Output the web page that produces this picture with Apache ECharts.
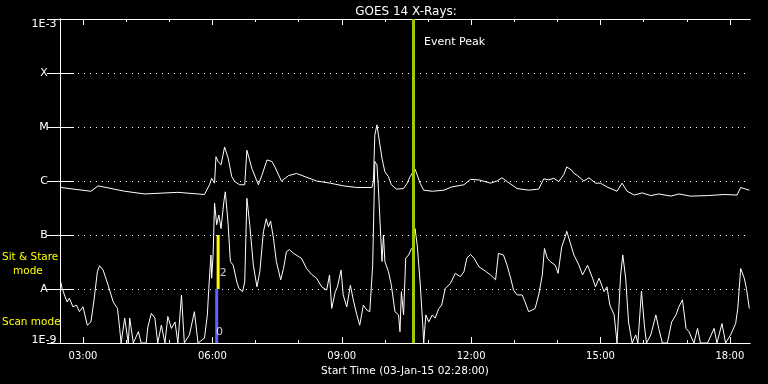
<!DOCTYPE html>
<html><head><meta charset="utf-8">
<script src="https://cdn.jsdelivr.net/npm/echarts@6/dist/echarts.min.js"></script>
<style>html,body{margin:0;background:#000}#c{width:768px;height:384px}</style>
</head><body><div id="c"></div><script>
// ---- data (time in minutes after 02:28 UT, flux as log10 W/m^2) ----
const chartTitle = 'GOES 14 X-Rays:';
const xTitle = 'Start Time (03-Jan-15 02:28:00)';
const startMinuteOfDay = 148;   // 02:28
const spanMinutes = 960;        // 16 hours
const majorHours = [3, 6, 9, 12, 15, 18];
const minorHours = [3, 4, 5, 6, 7, 8, 9, 10, 11, 12, 13, 14, 15, 16, 17, 18];
const yTickValues = [-9, -8, -7, -6, -5, -4, -3];
const yTickLabels = ['1E-9', 'A', 'B', 'C', 'M', 'X', '1E-3'];

const longTime = [1,43,53,90,118,164,201,208,211,215,217,220,224,229,234,239,243,250,257,260,262,267,276,281,288,295,299,308,318,329,341,357,376,394,413,434,436,438,441,443,448,452,457,461,468,478,483,487,494,497,501,506,518,534,545,562,571,583,599,608,615,622,636,652,666,673,680,687,694,701,705,712,715,719,729,736,745,752,761,775,782,789,799,810,822,833,850,861,877,901,924,942,947,959];
const longFlux = [-6.12,-6.19,-6.09,-6.19,-6.24,-6.21,-6.25,-6.07,-5.95,-6.04,-5.55,-5.64,-5.70,-5.37,-5.58,-5.92,-6.01,-6.07,-6.07,-5.43,-5.46,-5.77,-6.07,-5.89,-5.61,-5.64,-5.74,-6.00,-5.90,-5.86,-5.92,-6.00,-6.04,-6.09,-6.12,-6.12,-6.01,-5.15,-4.96,-5.15,-5.58,-5.83,-5.92,-6.07,-6.15,-6.14,-6.04,-5.92,-5.78,-5.89,-6.04,-6.17,-6.19,-6.17,-6.11,-6.07,-5.97,-5.98,-6.04,-6.00,-5.94,-6.01,-6.14,-6.17,-6.15,-5.96,-5.98,-5.95,-6.01,-5.88,-5.74,-5.80,-5.86,-5.89,-6.00,-5.94,-6.04,-6.04,-6.11,-6.19,-6.04,-6.19,-6.26,-6.22,-6.27,-6.24,-6.28,-6.24,-6.28,-6.27,-6.25,-6.26,-6.12,-6.17];

const shortTime = [1,3,7,10,13,18,23,27,32,38,43,47,52,55,60,67,74,80,83,85,90,95,97,102,109,113,120,122,127,132,136,141,146,150,155,160,164,169,173,180,187,192,201,205,207,210,211,213,215,218,221,224,228,230,234,237,241,246,249,254,257,260,262,264,269,274,278,283,287,290,293,297,301,307,311,315,319,325,332,336,343,350,357,364,371,375,378,383,386,391,394,399,404,408,413,417,422,427,431,435,437,438,441,443,445,448,450,452,457,461,466,471,473,475,478,481,485,489,492,494,497,501,505,506,509,513,518,522,527,531,536,543,550,557,562,566,571,576,583,592,599,606,610,617,622,627,631,636,643,647,652,657,661,666,671,674,678,682,689,693,698,703,705,710,715,722,727,734,741,745,750,757,761,765,771,775,780,783,787,791,796,801,804,809,813,816,822,829,833,838,845,851,857,861,866,871,875,882,887,891,901,910,914,921,926,933,940,943,947,952,955,959];
const shortFlux = [-7.87,-7.99,-8.14,-8.24,-8.17,-8.33,-8.30,-8.42,-8.33,-8.67,-8.61,-8.24,-7.68,-7.57,-7.65,-7.93,-8.24,-8.36,-8.73,-9,-8.54,-9,-8.54,-9,-8.79,-9,-9,-8.72,-8.45,-8.54,-9,-8.67,-9,-8.51,-8.73,-8.61,-9,-8.11,-9,-8.85,-8.42,-9,-8.91,-8.48,-7.99,-7.37,-7.80,-7.37,-6.41,-6.81,-6.63,-6.88,-6.38,-6.20,-6.81,-7.49,-7.56,-7.87,-7.99,-8.05,-7.87,-6.32,-6.29,-6.81,-7.56,-7.96,-7.68,-6.94,-6.70,-6.85,-6.74,-7.06,-7.49,-7.83,-7.62,-7.31,-7.27,-7.34,-7.40,-7.43,-7.62,-7.73,-7.80,-7.96,-8.02,-7.74,-8.36,-8.05,-7.96,-7.65,-8.11,-8.33,-7.93,-8.20,-8.48,-8.67,-8.30,-8.39,-8.42,-7.56,-6.32,-5.64,-5.70,-6.14,-6.69,-7.49,-7.00,-7.49,-7.68,-7.93,-8.42,-8.48,-8.79,-8.05,-8.48,-7.43,-7.37,-7.25,-7.25,-6.88,-7.19,-7.87,-8.73,-9,-8.48,-8.61,-8.48,-8.54,-8.36,-8.30,-7.99,-7.90,-7.71,-7.77,-7.68,-7.43,-7.36,-7.43,-7.59,-7.67,-7.74,-7.83,-7.34,-7.37,-7.56,-7.80,-8.02,-8.11,-8.11,-8.24,-8.42,-8.39,-8.36,-8.11,-7.74,-7.25,-7.43,-7.49,-7.56,-7.71,-7.22,-7.03,-6.93,-7.15,-7.37,-7.56,-7.74,-7.56,-7.80,-7.96,-7.80,-8.05,-7.96,-8.30,-8.48,-9,-7.74,-7.37,-7.80,-8.61,-9,-8.85,-9,-8.04,-8.67,-9,-8.85,-8.48,-8.73,-9,-9,-8.61,-8.48,-8.33,-8.20,-8.73,-8.79,-9,-8.73,-9,-9,-8.73,-9,-8.64,-9,-8.85,-8.64,-8.36,-7.62,-7.80,-7.99,-8.36];

const eventPeakTime = 491;
const sitStareTime = 220, sitStareRange = [-8, -7], sitStareLabel = '2';
const scanTime = 218, scanRange = [-9, -8], scanLabel = '0';
const modeLabelPoints = [[227, -7.7, sitStareLabel], [222, -8.8, scanLabel]];

// ---- build ----
const FONT = 'DejaVu Sans';
const zip = (t, v) => t.map((x, i) => [x, v[i]]);
const hourToMin = h => h * 60 - startMinuteOfDay;
const majorTicks = majorHours.map(hourToMin);
const minorTicks = minorHours.map(hourToMin);
const fmtHour = v => {
  const h = Math.round((v + startMinuteOfDay) / 60);
  return (h < 10 ? '0' : '') + h + ':00';
};
const baseX = {
  type: 'value', min: 0, max: spanMinutes, gridIndex: 0,
  axisLine: {show: true, onZero: false, lineStyle: {color: '#fff', width: 1}},
  splitLine: {show: false}
};
const xAxes = [
  Object.assign({}, baseX, {position: 'bottom',
    axisTick: {show: true, inside: true, length: 6, customValues: majorTicks, lineStyle: {color: '#fff'}},
    axisLabel: {show: true, customValues: majorTicks, formatter: fmtHour, color: '#fff', fontFamily: FONT, fontSize: 10, margin: 8},
    name: xTitle, nameLocation: 'middle', nameGap: 18,
    nameTextStyle: {color: '#fff', fontFamily: FONT, fontSize: 10.5}}),
  Object.assign({}, baseX, {position: 'bottom',
    axisTick: {show: true, inside: true, length: 3, customValues: minorTicks, lineStyle: {color: '#fff'}},
    axisLabel: {show: false}}),
  Object.assign({}, baseX, {position: 'top',
    axisTick: {show: true, inside: true, length: 6, customValues: majorTicks, lineStyle: {color: '#fff'}},
    axisLabel: {show: false}}),
  Object.assign({}, baseX, {position: 'top',
    axisTick: {show: true, inside: true, length: 3, customValues: minorTicks, lineStyle: {color: '#fff'}},
    axisLabel: {show: false}})
];
const yLabelFor = v => {
  const i = yTickValues.indexOf(Math.round(v));
  const s = i >= 0 ? yTickLabels[i] : '';
  if (i === 0) return '{lo|' + s + '}';
  if (i === yTickValues.length - 1) return '{hi|' + s + '}';
  return s;
};
const lblStyle = {color: '#fff', fontFamily: FONT, fontSize: 11};
const yAxes = [
  {type: 'value', min: -9, max: -3, interval: 1, position: 'left',
    axisLine: {show: true, lineStyle: {color: '#fff'}},
    axisTick: {show: true, inside: true, length: 14, lineStyle: {color: '#fff'}},
    axisLabel: Object.assign({show: true, align: 'center', margin: 16, formatter: yLabelFor,
      showMinLabel: true, showMaxLabel: true,
      rich: {lo: Object.assign({padding: [0, 0, 6, 0]}, lblStyle), hi: Object.assign({padding: [11, 0, 0, 0]}, lblStyle)}}, lblStyle),
    splitLine: {show: true, lineStyle: {color: '#fff', width: 1, type: [1, 5]}}},
  {type: 'value', min: -9, max: -3, interval: 1, position: 'right',
    axisLine: {show: true, lineStyle: {color: '#fff'}},
    axisTick: {show: true, inside: true, length: 13, lineStyle: {color: '#fff'}},
    axisLabel: {show: false}, splitLine: {show: false}}
];

const chart = echarts.init(document.getElementById('c'), null, {renderer: 'canvas'});
chart.setOption({
  backgroundColor: '#000',
  animation: false,
  title: {text: chartTitle, left: 401, top: 1, textAlign: 'center',
    textStyle: {color: '#fff', fontFamily: FONT, fontSize: 12, fontWeight: 'normal'}},
  grid: {left: 60, right: 18, top: 19, bottom: 41},
  xAxis: xAxes,
  yAxis: yAxes,
  graphic: [
    {type: 'text', left: 2, top: 252, style: {text: 'Sit & Stare', fill: '#ffff00', font: '10.5px "DejaVu Sans"'}},
    {type: 'text', left: 13, top: 266, style: {text: 'mode', fill: '#ffff00', font: '10.5px "DejaVu Sans"'}},
    {type: 'text', left: 2, top: 317, style: {text: 'Scan mode', fill: '#ffff00', font: '10.5px "DejaVu Sans"'}},
    {type: 'text', left: 424, top: 37, style: {text: 'Event Peak', fill: '#fff', font: '11px "DejaVu Sans"'}}
  ],
  series: [
    {type: 'line', name: 'long', data: zip(longTime, longFlux), showSymbol: false, symbol: 'none',
      lineStyle: {color: '#fff', width: 1}, z: 3,
      markLine: {silent: true, symbol: 'none', label: {show: false},
        lineStyle: {color: '#a0c800', width: 3, type: 'solid'},
        data: [{xAxis: eventPeakTime}]}},
    {type: 'line', name: 'short', data: zip(shortTime, shortFlux), showSymbol: false, symbol: 'none',
      lineStyle: {color: '#fff', width: 1}, z: 3},
    {type: 'line', name: 'sitStare', data: sitStareRange.map(v => [sitStareTime, v]), showSymbol: false, symbol: 'none',
      lineStyle: {color: '#ffff00', width: 3}, z: 4},
    {type: 'line', name: 'scan', data: scanRange.map(v => [scanTime, v]), showSymbol: false, symbol: 'none',
      lineStyle: {color: '#6060ff', width: 3}, z: 4},
    {type: 'scatter', name: 'modeLabels', data: modeLabelPoints, symbolSize: 0, z: 5,
      label: {show: true, position: 'inside', formatter: p => p.data[2], color: '#fff', fontFamily: FONT, fontSize: 11}}
  ]
});
</script></body></html>
